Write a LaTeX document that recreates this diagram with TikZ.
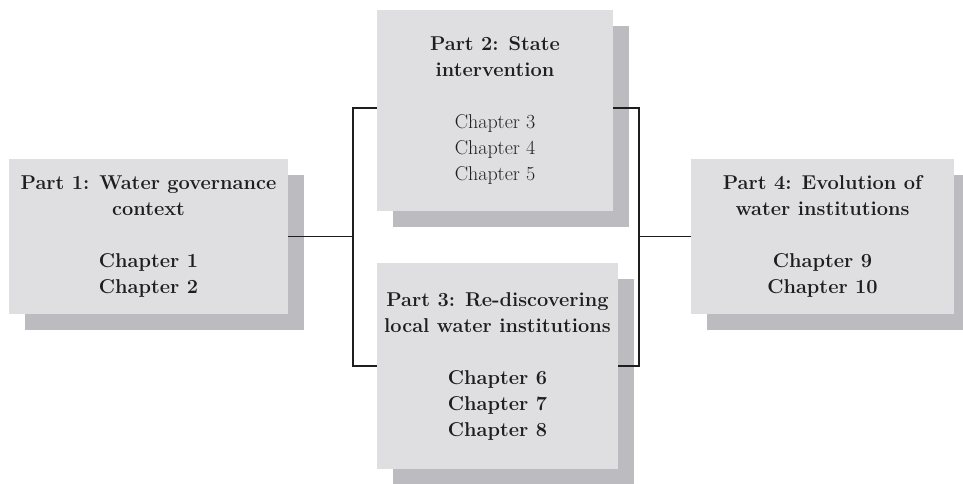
\documentclass[tikz,border=0pt]{standalone}
\usetikzlibrary{shadows}
\definecolor{boxfill}{RGB}{223,223,225}
\definecolor{boxshade}{RGB}{188,188,192}
\definecolor{inkline}{RGB}{30,30,30}
\definecolor{inktext}{RGB}{30,30,30}
\tikzset{
  partbox/.style={
    rectangle, fill=boxfill, draw=none, inner sep=0pt,
    align=center, text=inktext,
    font=\fontsize{15}{19.5}\selectfont\bfseries,
    drop shadow={shadow xshift=12pt, shadow yshift=-12pt,
                 fill=boxshade, opacity=1}
  },
  link/.style={draw=inkline, line width=0.8pt}
}
% chapters set in the regular weight
\newcommand{\plainchapter}[1]{{\mdseries\color{black!88}#1}}
\begin{document}
\begin{tikzpicture}[x=0.75pt, y=-0.75pt]
  \useasboundingbox (0,0) rectangle (963,483);

  % the four parts of the book
  \node[partbox, minimum width=279*0.75pt, minimum height=155*0.75pt]
    (p1) at (148.5,236.5)
    {Part 1: Water governance\\context\\[19.5pt]Chapter 1\\Chapter 2};
  \node[partbox, minimum width=236*0.75pt, minimum height=201*0.75pt]
    (p2) at (495,110.5)
    {Part 2: State\\intervention\\[19.5pt]\plainchapter{Chapter 3}\\
     \plainchapter{Chapter 4}\\\plainchapter{Chapter 5}};
  \node[partbox, minimum width=241*0.75pt, minimum height=206*0.75pt]
    (p3) at (497.5,366)
    {Part 3: Re-discovering\\local water institutions\\[19.5pt]Chapter 6\\Chapter 7\\Chapter 8};
  \node[partbox, minimum width=263*0.75pt, minimum height=155*0.75pt]
    (p4) at (822.5,236.5)
    {Part 4: Evolution of\\water institutions\\[19.5pt]Chapter 9\\Chapter 10};

  % junctions of the bracket connectors
  \coordinate (jl) at (353,236.5);
  \coordinate (jr) at (639,236.5);

  \draw[link] (p1.east) -- (jl);
  \draw[link] ([yshift=1.9pt]p2.west) -| (jl) |- (p3.west);
  \draw[link] ([yshift=1.9pt]p2.east) -| (jr) |- (p3.east);
  \draw[link] (jr) -- (p4.west);
\end{tikzpicture}
\end{document}
